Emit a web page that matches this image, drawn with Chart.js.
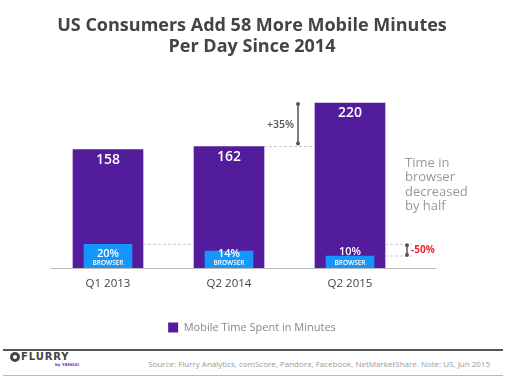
<!DOCTYPE html>
<html lang="en">
  <head>
    <meta charset="UTF-8" />
    <script src="https://cdn.jsdelivr.net/npm/chart.js@4.4.1/dist/chart.umd.min.js"></script>
    <style>
      body { margin: 0; background: #fff; font-family: "Open Sans", sans-serif; }
      #wrap { position: relative; width: 510px; height: 376px; overflow: hidden; }
      #chartBox { position: absolute; left: 0; top: 0; width: 510px; height: 349px; }
      #footer {
        position: absolute; left: 3px; top: 349px; width: 500px; height: 24px;
        border-top: 2px solid #555; border-bottom: 1px solid #bbb;
      }
      #logo { position: absolute; left: 0; top: 0; width: 90px; height: 24px; }
      #logo .ring {
        position: absolute; left: 7px; top: 1px; width: 4px; height: 4px;
        border: 3px solid #444; border-radius: 50%;
      }
      #logo .name {
        position: absolute; left: 18px; top: 0; line-height: 12px;
        font: bold 10px "DejaVu Sans", sans-serif; color: #444; letter-spacing: 0.9px;
      }
      #logo .by {
        position: absolute; left: 52px; top: 11px; font: bold 4px "DejaVu Sans", sans-serif;
        color: #6c2bd9; white-space: nowrap;
      }
      #source {
        position: absolute; right: 13px; top: 7px; font-size: 8px; color: #999;
        white-space: nowrap;
      }
    </style>
  </head>
  <body>
    <div id="wrap">
      <div id="chartBox"><canvas id="myChart"></canvas></div>
      <div id="footer">
        <div id="logo">
          <span class="ring"></span>
          <span class="name">FLURRY</span>
          <span class="by">by YAHOO!</span>
        </div>
        <div id="source">Source: Flurry Analytics, comScore, Pandora, Facebook, NetMarketShare. Note: US, Jun 2015</div>
      </div>
    </div>

    <script>
      // values
      const categories = ["Q1 2013", "Q2 2014", "Q2 2015"];
      const mobileMinutes = [158, 162, 220];
      const browserMinutes = [31.6, 22.7, 16]; // height of the blue bars
      const browserShare = ["20%", "14%", "10%"];
      const growthLabel = "+35%";
      const browserDropLabel = "-50%";
      const sideNote = ["Time in", "browser", "decreased", "by half"];

      const PURPLE = "#521c9c";
      const BLUE = "#1596fa";
      const FONT = "'Open Sans', sans-serif";

      function dashed(ctx, x1, x2, y) {
        ctx.save();
        ctx.strokeStyle = "#c8c8c8";
        ctx.lineWidth = 1;
        ctx.setLineDash([3, 2]);
        ctx.beginPath();
        ctx.moveTo(x1, y);
        ctx.lineTo(x2, y);
        ctx.stroke();
        ctx.restore();
      }

      function bracket(ctx, x, y1, y2) {
        ctx.save();
        ctx.strokeStyle = "#555";
        ctx.fillStyle = "#555";
        ctx.lineWidth = 1.5;
        ctx.beginPath();
        ctx.moveTo(x, y1);
        ctx.lineTo(x, y2);
        ctx.stroke();
        [y1, y2].forEach((y) => {
          ctx.beginPath();
          ctx.arc(x, y, 2, 0, Math.PI * 2);
          ctx.fill();
        });
        ctx.restore();
      }

      // labels, brackets and the base line
      const annotations = {
        id: "annotations",
        afterDatasetsDraw(chart) {
          const ctx = chart.ctx;
          const y = chart.scales.y;
          const main = chart.getDatasetMeta(0).data;
          const br = chart.getDatasetMeta(1).data;
          const base = y.getPixelForValue(0);

          ctx.save();
          // base line
          ctx.strokeStyle = "#bbb";
          ctx.lineWidth = 1;
          ctx.beginPath();
          ctx.moveTo(50, base + 0.5);
          ctx.lineTo(436, base + 0.5);
          ctx.stroke();

          ctx.textAlign = "center";
          ctx.textBaseline = "middle";
          main.forEach((bar, i) => {
            ctx.fillStyle = "#fff";
            ctx.font = "600 14px " + FONT;
            ctx.fillText(mobileMinutes[i], bar.x, bar.y + 10);
          });
          br.forEach((bar, i) => {
            ctx.fillStyle = "#fff";
            ctx.font = "600 11px " + FONT;
            ctx.fillText(browserShare[i], bar.x, base - (i === 2 ? 16 : 14));
            ctx.font = "600 6.5px " + FONT;
            ctx.fillText("BROWSER", bar.x, base - 4.5);
          });

          // dashed guides
          const w0 = main[0].width / 2;
          dashed(ctx, main[0].x + w0, main[1].x - w0, br[0].y);
          dashed(ctx, main[1].x + w0, main[2].x - w0, main[1].y);
          dashed(ctx, main[2].x + w0, main[2].x + w0 + 27, br[0].y);
          dashed(ctx, main[2].x + w0, main[2].x + w0 + 27, br[2].y);

          // +35% bracket
          const gx = main[2].x - w0 - 17;
          bracket(ctx, gx, main[2].y + 1, main[1].y - 3);
          ctx.fillStyle = "#555";
          ctx.font = "600 10.5px " + FONT;
          ctx.textAlign = "right";
          ctx.fillText(growthLabel, gx - 4, (main[2].y + main[1].y) / 2);

          // -50% bracket
          const dx = main[2].x + w0 + 22;
          bracket(ctx, dx, br[0].y + 1, br[2].y - 1);
          ctx.fillStyle = "#f0242f";
          ctx.font = "bold 10px " + FONT;
          ctx.textAlign = "left";
          ctx.fillText(browserDropLabel, dx + 4, (br[0].y + br[2].y) / 2);

          // side note
          ctx.fillStyle = "#999";
          ctx.font = "13px " + FONT;
          sideNote.forEach((line, i) => {
            ctx.fillText(line, main[2].x + w0 + 20, 163 + i * 14.5);
          });
          ctx.restore();
        },
      };

      // invisible side axes keep the bars where they are without shifting title/legend
      const spacer = (w, pos) => ({
        type: "linear",
        position: pos,
        display: true,
        grid: { display: false },
        border: { display: false },
        ticks: { display: false },
        afterFit: (scale) => {
          scale.width = w;
        },
      });

      const ctx = document.getElementById("myChart").getContext("2d");
      const myChart = new Chart(ctx, {
        type: "bar",
        data: {
          labels: categories,
          datasets: [
            {
              label: "Mobile Time Spent in Minutes",
              data: mobileMinutes,
              backgroundColor: PURPLE,
              barThickness: 70,
              grouped: false,
              order: 1,
            },
            {
              label: "Browser",
              data: browserMinutes,
              backgroundColor: BLUE,
              barThickness: 48,
              grouped: false,
              order: 0,
            },
          ],
        },
        options: {
          responsive: true,
          maintainAspectRatio: false,
          animation: false,
          layout: {
            padding: { left: 0, right: 6, top: 0, bottom: 6 },
          },
          plugins: {
            legend: {
              position: "bottom",
              labels: {
                filter: (item) => item.datasetIndex === 0,
                boxWidth: 10,
                boxHeight: 10,
                color: "#888",
                font: { family: FONT, size: 11 },
                padding: 22.2,
              },
            },
            tooltip: { enabled: false },
            title: {
              display: true,
              text: [
                "US Consumers Add 58 More Mobile Minutes",
                "Per Day Since 2014",
              ],
              color: "#444",
              font: { family: FONT, size: 18, weight: "bold", lineHeight: 1.17 },
              padding: { top: 15.5, bottom: 14.5 },
            },
          },
          scales: {
            x: {
              grid: { display: false, drawTicks: false },
              border: { display: false },
              ticks: {
                color: "#444",
                font: { family: FONT, size: 11.5 },
                padding: 9,
              },
            },
            y: {
              ...spacer(47.5, "left"),
              min: 0,
              max: 261.3,
            },
            yRight: spacer(93.5, "right"),
          },
        },
        plugins: [annotations],
      });
    </script>
  </body>
</html>
